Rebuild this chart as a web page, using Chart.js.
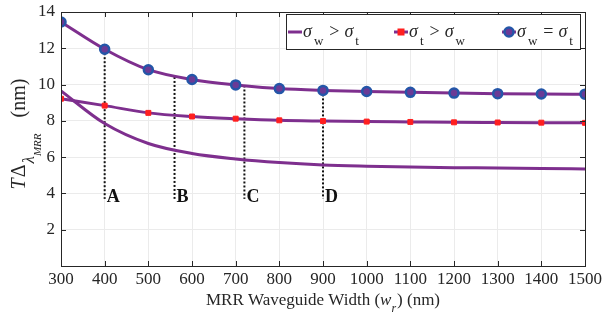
<!DOCTYPE html>
<html lang="en">
<head>
  <meta charset="UTF-8" />
  <title>MRR waveguide width</title>
  <style>
    body { margin: 0; background: #fff; }
    #wrap { width: 603px; height: 322px; }
  </style>
</head>
<body>
  <div id="wrap"><canvas id="chart" width="603" height="322"></canvas></div>

  <script src="https://cdn.jsdelivr.net/npm/chart.js"></script>
  <script>
    // data
    const widths = [300, 400, 500, 600, 700, 800, 900, 1000, 1100, 1200, 1300, 1400, 1500];
    const wGreaterT = [9.65, 7.85, 6.75, 6.2, 5.9, 5.7, 5.57, 5.5, 5.45, 5.42, 5.4, 5.37, 5.35];
    const tGreaterW = [9.22, 8.84, 8.44, 8.24, 8.12, 8.03, 7.99, 7.96, 7.94, 7.92, 7.91, 7.9, 7.89];
    const wEqualT = [13.45, 11.95, 10.82, 10.28, 9.98, 9.78, 9.68, 9.62, 9.57, 9.53, 9.5, 9.48, 9.47];
    const markX = [400, 560, 720, 900];
    const markTop = [11.95, 10.42, 9.95, 9.68];
    const markBottom = 3.7;
    const markNames = ['A', 'B', 'C', 'D'];
    const xTicks = [300, 1500, 100];
    const yTicks = [0, 14, 2];

    const purple = '#7e2f8e';
    const txt = '#262626';
    const serif = '"Liberation Serif", "DejaVu Serif", serif';

    const pts = (xs, ys) => xs.map((x, i) => ({ x: x, y: ys[i] }));

    const datasets = [
      {
        label: 'w>t', data: pts(widths, wGreaterT), borderColor: purple, borderWidth: 3,
        pointRadius: 0, cubicInterpolationMode: 'monotone', order: 1
      },
      {
        label: 't>w', data: pts(widths, tGreaterW), borderColor: purple, borderWidth: 3,
        pointStyle: 'rect', pointRadius: 3.5, pointBackgroundColor: '#ff1f1f', pointBorderColor: '#ff1f1f',
        pointBorderWidth: 1, cubicInterpolationMode: 'monotone', order: 1
      },
      {
        label: 'w=t', data: pts(widths, wEqualT), borderColor: purple, borderWidth: 3,
        pointStyle: 'circle', pointRadius: 4.5, pointBackgroundColor: '#6a3a96', pointBorderColor: '#2456a8',
        pointBorderWidth: 2.5, cubicInterpolationMode: 'monotone', order: 0
      }
    ];
    markX.forEach((x, i) => {
      datasets.push({
        label: markNames[i], data: [{ x: x, y: markTop[i] }, { x: x, y: markBottom }],
        borderColor: '#111', borderWidth: 2, borderDash: [2, 2], pointRadius: 0, order: 5
      });
    });

    // text runs with sub/superscripts
    function runs(ctx, x, y, parts) {
      parts.forEach(p => {
        ctx.font = p.font;
        x += p.gap || 0;
        ctx.fillText(p.t, x, y + (p.dy || 0));
        x += ctx.measureText(p.t).width;
      });
      return x;
    }
    function runsWidth(ctx, parts) {
      let w = 0;
      parts.forEach(p => { ctx.font = p.font; w += (p.gap || 0) + ctx.measureText(p.t).width; });
      return w;
    }

    const extras = {
      id: 'extras',
      afterDraw(chart) {
        const ctx = chart.ctx;
        const a = chart.chartArea;
        const xs = chart.scales.x, ys = chart.scales.y;
        ctx.save();

        // box + inward ticks
        ctx.strokeStyle = txt;
        ctx.lineWidth = 1;
        ctx.strokeRect(Math.round(a.left) + 0.5, Math.round(a.top) + 0.5,
          Math.round(a.right - a.left), Math.round(a.bottom - a.top));
        ctx.beginPath();
        for (let v = xTicks[0]; v <= xTicks[1]; v += xTicks[2]) {
          const px = Math.round(xs.getPixelForValue(v)) + 0.5;
          ctx.moveTo(px, a.bottom); ctx.lineTo(px, a.bottom - 5);
          ctx.moveTo(px, a.top); ctx.lineTo(px, a.top + 5);
        }
        for (let v = yTicks[0]; v <= yTicks[1]; v += yTicks[2]) {
          const py = Math.round(ys.getPixelForValue(v)) + 0.5;
          ctx.moveTo(a.left, py); ctx.lineTo(a.left + 5, py);
          ctx.moveTo(a.right, py); ctx.lineTo(a.right - 5, py);
        }
        ctx.stroke();

        // A B C D labels
        ctx.fillStyle = '#111';
        ctx.font = 'bold 18px ' + serif;
        ctx.textBaseline = 'alphabetic';
        markX.forEach((x, i) => {
          ctx.fillText(markNames[i], xs.getPixelForValue(x) + 2, ys.getPixelForValue(markBottom) + 3);
        });

        // x title
        ctx.fillStyle = txt;
        const f = '17px ' + serif, fi = 'italic 17px ' + serif;
        const xt = [
          { t: 'MRR Waveguide Width (', font: f },
          { t: 'w', font: fi },
          { t: 'r', font: 'italic 12px ' + serif, dy: 7 },
          { t: ') (nm)', font: f, gap: 1 }
        ];
        const xw = runsWidth(ctx, xt);
        runs(ctx, (a.left + a.right) / 2 - xw / 2, 305, xt);

        // y title (rotated)
        const yt = [
          { t: 'T', font: 'italic 20px ' + serif },
          { t: '\u0394', font: '20px ' + serif, gap: 1 },
          { t: '\u03bb', font: 'italic 17px ' + serif, dy: 9, gap: 1 },
          { t: 'MRR', font: 'italic 11px ' + serif, dy: 16 },
          { t: '(nm)', font: '20px ' + serif, gap: 16 }
        ];
        const yw = runsWidth(ctx, yt);
        ctx.save();
        ctx.translate(25, 134);
        ctx.rotate(-Math.PI / 2);
        runs(ctx, -yw / 2, 0, yt);
        ctx.restore();

        // legend
        ctx.fillStyle = '#fff';
        ctx.fillRect(286, 14, 294, 35);
        ctx.strokeStyle = txt;
        ctx.lineWidth = 1;
        ctx.strokeRect(286.5, 14.5, 294, 35);
        const entries = [
          { x: 288, a: 'w', op: '>', b: 't', kind: 0 },
          { x: 394, a: 't', op: '>', b: 'w', kind: 1 },
          { x: 502, a: 'w', op: '=', b: 't', kind: 2 }
        ];
        entries.forEach(e => {
          const ly = 32;
          ctx.strokeStyle = purple; ctx.lineWidth = 3;
          ctx.beginPath(); ctx.moveTo(e.x, ly); ctx.lineTo(e.x + 14, ly); ctx.stroke();
          const cx = e.x + 7;
          if (e.kind === 1) {
            ctx.fillStyle = '#ff1f1f';
            ctx.fillRect(cx - 3.5, ly - 3.5, 7, 7);
          } else if (e.kind === 2) {
            ctx.fillStyle = '#6a3a96'; ctx.strokeStyle = '#2456a8'; ctx.lineWidth = 2.5;
            ctx.beginPath(); ctx.arc(cx, ly, 4.5, 0, Math.PI * 2); ctx.fill(); ctx.stroke();
          }
          ctx.fillStyle = txt;
          const sub = '13px ' + serif;
          runs(ctx, e.x + 15, 37, [
            { t: '\u03c3', font: 'italic 18px ' + serif },
            { t: e.a, font: sub, dy: 8, gap: 2 },
            { t: e.op, font: '18px ' + serif, gap: 6 },
            { t: '\u03c3', font: 'italic 18px ' + serif, gap: 5 },
            { t: e.b, font: sub, dy: 8, gap: 2 }
          ]);
        });
        ctx.restore();
      }
    };

    new Chart(document.getElementById('chart'), {
      type: 'line',
      data: { datasets: datasets },
      options: {
        responsive: false,
        animation: false,
        layout: { padding: { top: 12, right: 18, left: 0, bottom: 0 } },
        plugins: { legend: { display: false }, tooltip: { enabled: false } },
        scales: {
          x: {
            type: 'linear', min: xTicks[0], max: xTicks[1],
            ticks: {
              stepSize: xTicks[2], color: txt, font: { family: serif, size: 17, lineHeight: 1 }, padding: 5, maxRotation: 0,
              callback: v => String(v)
            },
            grid: { color: '#ebebeb', drawTicks: false },
            border: { display: false },
            afterFit: s => { s.height = 56; s.paddingLeft = 0; s.paddingRight = 0; }
          },
          y: {
            min: yTicks[0], max: yTicks[1],
            ticks: {
              stepSize: yTicks[2], color: txt, font: { family: serif, size: 17, lineHeight: 1 }, padding: 6,
              callback: v => (v === 0 ? '' : String(v))
            },
            grid: { color: '#ebebeb', drawTicks: false },
            border: { display: false },
            afterFit: s => { s.width = 61; s.paddingTop = 0; s.paddingBottom = 0; }
          }
        }
      },
      plugins: [extras]
    });
  </script>
</body>
</html>
